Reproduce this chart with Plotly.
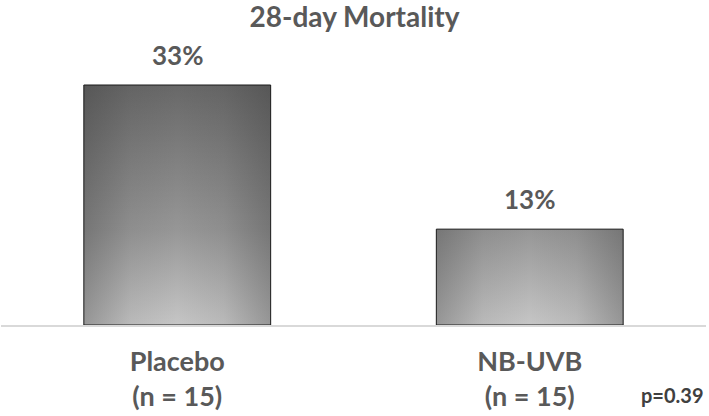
import plotly.graph_objects as go

groups = ["Placebo", "NB-UVB"]
group_n = ["(n = 15)", "(n = 15)"]
mortality = [33.3, 13.3]
value_labels = ["33%", "13%"]
p_value = "p=0.39"

FONT = "Lato"
GREY = "#595959"
half = 0.265

vertical_scale = [[0, "#c6c6c6"], [0.4, "#969696"], [1, "#686868"]]
side_shade = [[0, "rgba(50,50,50,0.32)"], [0.25, "rgba(50,50,50,0.08)"],
              [0.5, "rgba(50,50,50,0)"], [0.75, "rgba(50,50,50,0.08)"],
              [1, "rgba(50,50,50,0.32)"]]

fig = go.Figure()
xs = list(range(len(groups)))
for i, v in zip(xs, mortality):
    bx = [i - half, i - half, i + half, i + half, i - half]
    by = [0, v, v, 0, 0]
    # light-bottom / dark-top fill, same scale for both bars
    fig.add_trace(go.Scatter(
        x=bx, y=by, mode="lines", fill="toself", line=dict(width=0),
        fillgradient=dict(type="vertical", start=0, stop=max(mortality),
                          colorscale=vertical_scale),
        hoverinfo="skip", showlegend=False))
    # darker edges + outline
    fig.add_trace(go.Scatter(
        x=bx, y=by, mode="lines", fill="toself",
        line=dict(color="#1a1a1a", width=1),
        fillgradient=dict(type="horizontal", colorscale=side_shade),
        hoverinfo="skip", showlegend=False))

for i, v, lab in zip(xs, mortality, value_labels):
    fig.add_annotation(x=i, y=v, text=lab, showarrow=False,
                       yanchor="bottom", yshift=12,
                       font=dict(family=FONT, size=26, color=GREY, weight="bold"))

fig.add_annotation(text=p_value, x=1, xref="paper", xanchor="right",
                   y=-0.265, yref="paper", yanchor="middle", showarrow=False,
                   font=dict(family=FONT, size=20, color="#404040", weight="bold"))

fig.update_layout(
    width=709, height=416,
    margin=dict(l=1, r=3, t=60, b=91),
    paper_bgcolor="white", plot_bgcolor="white",
    title=dict(text="28-day Mortality", x=0.5, xanchor="center",
               y=1 - 17 / 416, yanchor="middle",
               font=dict(family=FONT, size=28, color=GREY, weight="bold")),
    xaxis=dict(range=[-0.5, 1.5], tickvals=xs,
               ticktext=[f"{g}<br>{n}" for g, n in zip(groups, group_n)],
               tickfont=dict(family=FONT, size=27, color=GREY, weight="bold"),
               ticklabelstandoff=12,
               showgrid=False, zeroline=False, showline=True,
               linecolor="#d9d9d9", linewidth=1.5, ticks=""),
    yaxis=dict(range=[0, 36.77], visible=False),
)

fig.write_html("out.html", config={"displayModeBar": False},
               post_script="document.body.style.margin='0';")
